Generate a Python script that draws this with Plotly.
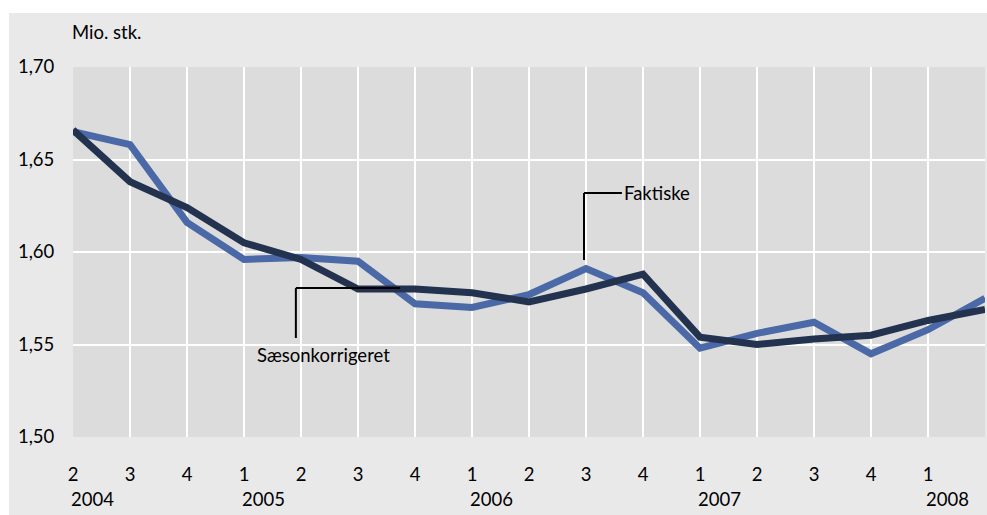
import plotly.graph_objects as go

quarters = ["2", "3", "4", "1", "2", "3", "4", "1", "2", "3", "4", "1", "2", "3", "4", "1", "2"]
years = ["2004", "2005", "2006", "2007", "2008"]
year_start_idx = [0, 3, 7, 11, 15]

faktiske = [1.665, 1.658, 1.616, 1.596, 1.597, 1.595, 1.572, 1.570, 1.577, 1.591,
            1.578, 1.548, 1.556, 1.562, 1.545, 1.558, 1.575]
saeson = [1.666, 1.638, 1.624, 1.605, 1.596, 1.580, 1.580, 1.578, 1.573, 1.580,
          1.588, 1.554, 1.550, 1.553, 1.555, 1.563, 1.569]

y_ticks = [1.50, 1.55, 1.60, 1.65, 1.70]
y_ticktext = ["1,50", "1,55", "1,60", "1,65", "1,70"]

x = list(range(len(quarters)))
FONT = "Lato"
FS = 18.5

fig = go.Figure()
fig.add_trace(go.Scatter(x=x, y=faktiske, mode="lines", name="Faktiske",
                         line=dict(color="#4a69a6", width=7)))
fig.add_trace(go.Scatter(x=x, y=saeson, mode="lines", name="Sæsonkorrigeret",
                         line=dict(color="#23324f", width=7)))

W, H = 987, 515
PL, PR, PT, PB = 73, 985, 67, 437          # plot area in page pixels
L, R, T, B = PL, W - PR, PT, H - PB
pw, ph = PR - PL, PB - PT

def px2paper_x(px):
    return (px - PL) / pw

def px2paper_y(py):
    return (PB - py) / ph

shapes = [
    dict(type="rect", xref="paper", yref="paper",
         x0=px2paper_x(9), x1=px2paper_x(987), y0=px2paper_y(13), y1=px2paper_y(515),
         fillcolor="#e9e9e9", line=dict(width=0), layer="below"),
    dict(type="rect", xref="paper", yref="paper", x0=0, x1=1, y0=0, y1=1,
         fillcolor="#dcdcdc", line=dict(width=0), layer="below"),
    dict(type="line", xref="x", yref="y", x0=3.91, x1=3.91, y0=1.5535, y1=1.5805,
         line=dict(color="black", width=2)),
    dict(type="line", xref="x", yref="y", x0=3.91, x1=5.74, y0=1.5805, y1=1.5805,
         line=dict(color="black", width=2)),
    dict(type="line", xref="x", yref="y", x0=8.965, x1=8.965, y0=1.5957, y1=1.6319,
         line=dict(color="black", width=2)),
    dict(type="line", xref="x", yref="y", x0=8.965, x1=9.63, y0=1.6319, y1=1.6319,
         line=dict(color="black", width=2)),
]

annotations = [
    dict(text="Mio. stk.", xref="paper", yref="paper", x=px2paper_x(70), y=px2paper_y(32),
         xanchor="left", yanchor="middle", showarrow=False, font=dict(size=FS, color="black", family=FONT)),
    dict(text="Sæsonkorrigeret", xref="x", yref="y", x=4.40, y=1.5443,
         xanchor="center", yanchor="middle", showarrow=False, font=dict(size=FS, color="black", family=FONT)),
    dict(text="Faktiske", xref="x", yref="y", x=9.63, y=1.6319,
         xanchor="left", yanchor="middle", showarrow=False, font=dict(size=FS, color="black", family=FONT)),
]
for yr, idx in zip(years, year_start_idx):
    annotations.append(dict(text=yr, xref="x", yref="paper", x=idx, y=px2paper_y(499),
                            xanchor="left", yanchor="middle", xshift=-4, showarrow=False,
                            font=dict(size=FS, color="black", family=FONT)))

fig.update_layout(
    width=W, height=H,
    margin=dict(l=L, r=R, t=T, b=B),
    paper_bgcolor="white",
    plot_bgcolor="rgba(0,0,0,0)",
    showlegend=False,
    shapes=shapes,
    annotations=annotations,
    font=dict(family=FONT, size=FS, color="black"),
    xaxis=dict(range=[0, 16], tickmode="array", tickvals=x, ticktext=quarters,
               showgrid=True, gridcolor="white", gridwidth=2, zeroline=False,
               showline=False, ticks="outside", ticklen=21, tickcolor="rgba(0,0,0,0)",
               tickfont=dict(size=FS, family=FONT, color="black"), fixedrange=True),
    yaxis=dict(range=[1.50, 1.70], tickmode="array", tickvals=y_ticks, ticktext=y_ticktext,
               showgrid=True, gridcolor="white", gridwidth=2, zeroline=False,
               showline=False, ticks="outside", ticklen=14, tickcolor="rgba(0,0,0,0)",
               tickfont=dict(size=FS, family=FONT, color="black"), fixedrange=True),
)

fig.write_html(
    "out.html",
    config={"displayModeBar": False},
    post_script="document.body.style.margin='0';document.body.style.padding='0';"
                "document.body.style.overflow='hidden';",
)
